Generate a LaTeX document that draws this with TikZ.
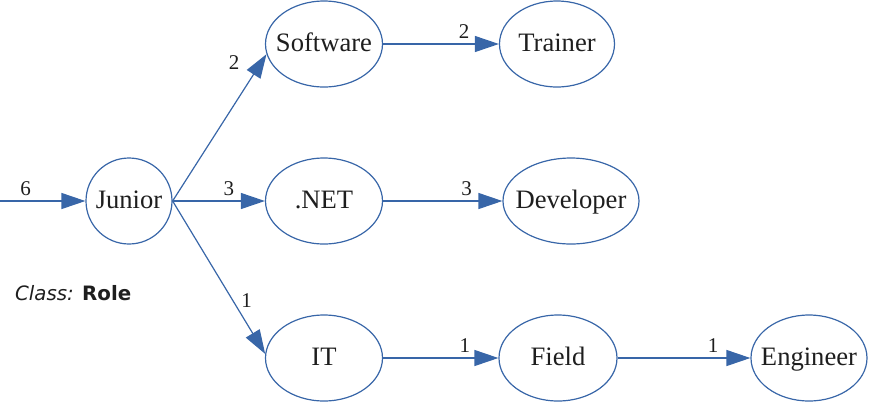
\documentclass[tikz,border=0pt]{standalone}
\usepackage{fontspec}
\setmainfont{Liberation Serif}
\newfontfamily\notefont{DejaVu Sans}
\usetikzlibrary{arrows.meta, shapes.geometric}
\definecolor{xBlue}{RGB}{56,102,168}
\definecolor{xInk}{RGB}{30,30,30}
% keep the ellipse size fixed, whatever the word
\newcommand\rolename[1]{\makebox[0pt]{#1}}
\tikzset{
  role/.style={draw=xBlue, ellipse, inner sep=0pt, minimum height=43pt, line width=0.6pt,
               text height=9.3pt, text depth=2.3pt,
               font=\fontsize{13.3}{16}\selectfont, text=xInk},
  link/.style={-{Triangle[length=12pt,width=8pt]}, xBlue, line width=0.6pt},
  count/.style={font=\fontsize{10.5}{12}\selectfont, text=xInk, inner sep=2.5pt},
}

\begin{document}
\begin{tikzpicture}[x=0.5pt, y=-0.5pt]
    \useasboundingbox (0,0) rectangle (869,409);
    \coordinate (src) at (0,201);
    \node[role, minimum width=43pt]   (jun)  at (129,201) {\rolename{Junior}};
    \node[role, minimum width=58.5pt] (soft) at (324,44)  {\rolename{Software}};
    \node[role, minimum width=57.5pt] (trn)  at (557,44)  {\rolename{Trainer}};
    \node[role, minimum width=58.5pt] (net)  at (324,201) {\rolename{.NET}};
    \node[role, minimum width=68pt]   (dev)  at (571,201) {\rolename{Developer}};
    \node[role, minimum width=58.5pt] (it)   at (324,358) {\rolename{IT}};
    \node[role, minimum width=59pt]   (fld)  at (558,358) {\rolename{Field}};
    \node[role, minimum width=58pt]   (eng)  at (809,358) {\rolename{Engineer}};
    \node[anchor=west, text=xInk, font=\notefont\fontsize{9.9}{12}\selectfont] (cls) at (8,293)
      {\textit{Class:} \textbf{Role}};
    \draw[link] (src) -- node[count, pos=0.3, above] {6} (jun);
    \draw[link] (jun.east) -- node[count, pos=0.94, left=8pt] {2} (soft.190);
    \draw[link] (jun.east) -- node[count, pos=0.61, above] {3} (net);
    \draw[link] (jun.east) -- node[count, pos=0.65, right=1.5pt] {1} (it.176);
    \draw[link] (soft) -- node[count, pos=0.7, above] {2} (trn);
    \draw[link] (net) -- node[count, pos=0.7, above] {3} (dev);
    \draw[link] (it) -- node[count, pos=0.71, above] {1} (fld);
    \draw[link] (fld) -- node[count, pos=0.72, above] {1} (eng);
  \end{tikzpicture}
\end{document}
